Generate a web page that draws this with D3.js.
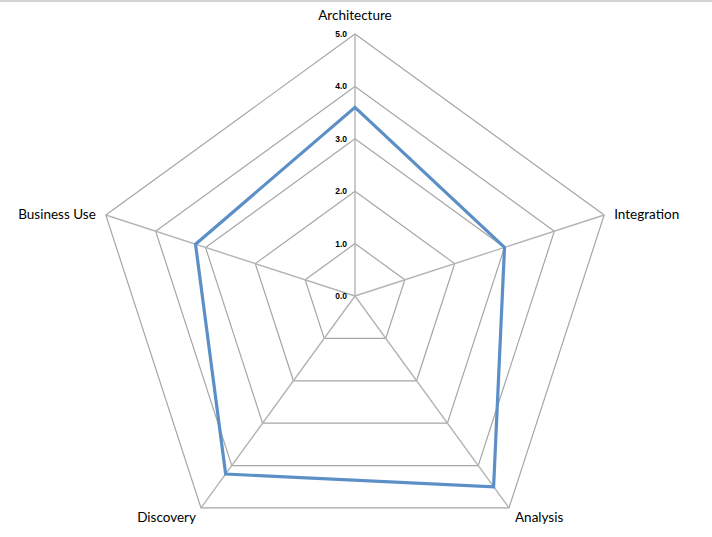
<!DOCTYPE html>
<html>
<head>
<meta charset="utf-8">
<script src="https://cdn.jsdelivr.net/npm/d3@7"></script>
<style>
  body { margin: 0; background: #fff; }
  #chart { width: 712px; height: 537px; }
  .axisLabel { font-family: Lato, "Open Sans", sans-serif; font-size: 13.5px; fill: #000; }
  .tickLabel { font-family: "Liberation Sans", Arial, sans-serif; font-size: 8.5px; font-weight: bold; fill: #000; }
</style>
</head>
<body>
<div id="chart"></div>
<script>
// data
const categories = ["Architecture", "Integration", "Analysis", "Discovery", "Business Use"];
const scores = [3.6, 3.0, 4.5, 4.2, 3.2];
const tickValues = [0, 1, 2, 3, 4, 5];

const width = 712;
const height = 537;

const svg = d3.select("#chart")
    .append("svg")
    .attr("width", width)
    .attr("height", height);

// thin border line at the top
svg.append("rect")
    .attr("x", 0).attr("y", 0)
    .attr("width", width).attr("height", 2)
    .attr("fill", "#d4d4d4");

const cx = 355, cy = 296;

const rScale = d3.scaleLinear()
    .domain([0, 5])
    .range([0, 262]);

const angle = d3.scaleLinear()
    .domain([0, categories.length])
    .range([0, 2 * Math.PI]);

function point(i, v) {
    const a = angle(i);
    return [cx + rScale(v) * Math.sin(a), cy - rScale(v) * Math.cos(a)];
}

// grid pentagons
const grid = svg.append("g");
tickValues.slice(1).forEach(function(t) {
    grid.append("polygon")
        .attr("points", categories.map((c, i) => point(i, t).join(",")).join(" "))
        .attr("fill", "none")
        .attr("stroke", "#a6a6a6")
        .attr("stroke-width", 1.2);
});

// spokes
categories.forEach(function(c, i) {
    const p = point(i, 5);
    grid.append("line")
        .attr("x1", cx).attr("y1", cy)
        .attr("x2", p[0]).attr("y2", p[1])
        .attr("stroke", "#b4b4b4")
        .attr("stroke-width", 1.4);
});

// tick labels
svg.selectAll(".tickLabel")
    .data(tickValues)
    .enter()
    .append("text")
    .attr("class", "tickLabel")
    .attr("x", cx - 8)
    .attr("y", d => cy - rScale(d) + 3)
    .attr("text-anchor", "end")
    .text(d => d.toFixed(1));

// series
const line = d3.line().curve(d3.curveLinearClosed);
svg.append("path")
    .attr("d", line(scores.map((v, i) => point(i, v))))
    .attr("fill", "none")
    .attr("stroke", "#5b8fc6")
    .attr("stroke-width", 3.2)
    .attr("stroke-linejoin", "miter");

// category labels
const labelPos = [
    { dx: 0, dy: -14, anchor: "middle" },
    { dx: 10, dy: 4, anchor: "start" },
    { dx: 6, dy: 14, anchor: "start" },
    { dx: -5, dy: 14, anchor: "end" },
    { dx: -10, dy: 4, anchor: "end" }
];
categories.forEach(function(c, i) {
    const p = point(i, 5);
    svg.append("text")
        .attr("class", "axisLabel")
        .attr("x", p[0] + labelPos[i].dx)
        .attr("y", p[1] + labelPos[i].dy)
        .attr("text-anchor", labelPos[i].anchor)
        .text(c);
});
</script>
</body>
</html>
